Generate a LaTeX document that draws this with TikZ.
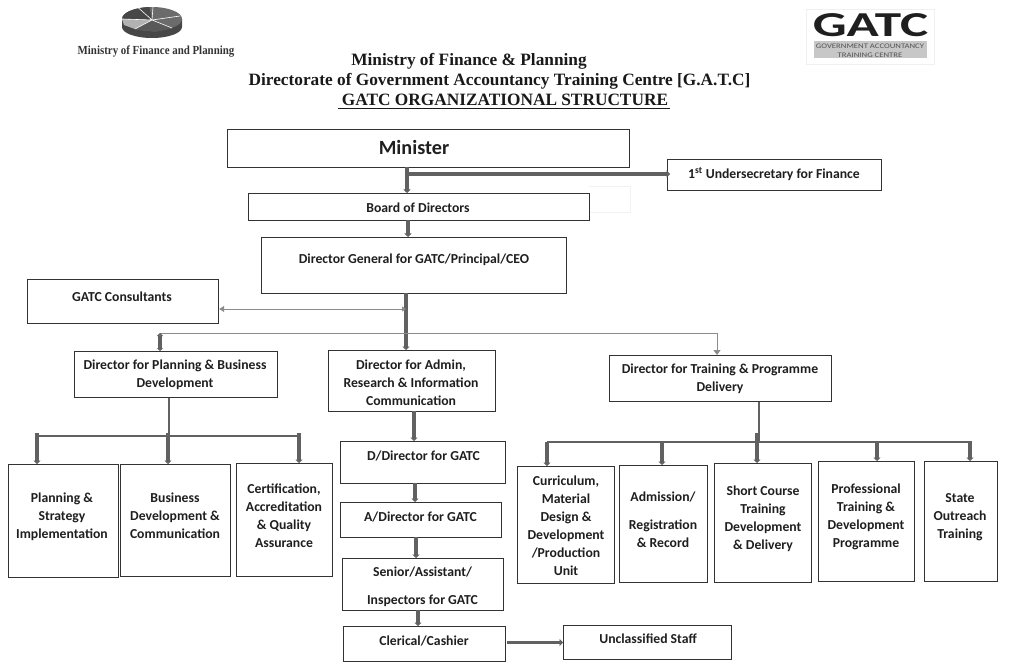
\documentclass[tikz,border=0pt]{standalone}
\usepackage{fontspec}
\setmainfont{Carlito}
\newfontfamily\ttl{Liberation Serif}
\usetikzlibrary{arrows.meta}
\definecolor{ln}{gray}{0.2}
\definecolor{conn}{gray}{0.38}
\tikzset{
 x=1pt,y=-1pt,
 bx/.style={draw=ln,line width=1.2pt,inner sep=0pt,fill=white},
 lbl/.style={font=\fontsize{13.7}{18}\selectfont\bfseries,align=center,text=black!88,inner sep=0pt,yshift=-1pt},
 ttlstyle/.style={font=\ttl\fontsize{17.3}{20}\selectfont\bfseries,inner sep=0pt,text=black!90},
 thick line/.style={draw=conn,line width=3.2pt},
 thin line/.style={draw=conn,line width=1.2pt},
 pale line/.style={draw=black!45,line width=1pt},
 tip/.style={-{Triangle[length=3.5pt,width=7pt]}},
}
% name, x1, y1, x2, y2
\newcommand{\bxn}[5]{\node[bx,minimum width=#4pt-#2pt,minimum height=#5pt-#3pt,anchor=north west] (#1) at (#2,#3) {};}
\begin{document}
\begin{tikzpicture}
\useasboundingbox (0,0) rectangle (1024,668);
% logos
\fill[black!72] (122,19) -- (122,27) arc[start angle=180,end angle=360,x radius=30,y radius=-11] -- (182,19) -- cycle;
\fill[black!58] (152,19) ellipse[x radius=30,y radius=12];
\fill[black!72] (122,19) arc[start angle=180,end angle=95,x radius=30,y radius=-12] -- (152,20) -- cycle;
\fill[black!30] (122,19) -- (152,20) -- (135,29) -- (124,25) -- cycle;
\fill[black!65] (135,29) -- (152,20) -- (172,28) -- (155,32) -- cycle;
\draw[white,line width=.6pt] (152,20) -- (138,7.5) (152,20) -- (153,7) (152,20) -- (180,16) (152,20) -- (172,28) (152,20) -- (135,29) (152,20) -- (122,19);
\node[font=\ttl\fontsize{12.3}{14}\selectfont\bfseries,text=black!80,inner sep=0pt,xscale=.885] (minlogo) at (156,52) {Ministry of Finance and Planning};
\draw[black!6] (806,9) rectangle (934,64);
\node[font=\fontsize{35}{35}\selectfont\bfseries,text=black!88,inner sep=0pt,xscale=1.52] (gatclogo) at (870.5,25) {GATC};
\fill[black!22] (814,41) rectangle (927,58);
\node[font=\fontsize{7}{8.8}\selectfont,text=black!68,align=center,inner sep=0pt,xscale=1.24] (gatcsub) at (870,50.5) {GOVERNMENT ACCOUNTANCY\\TRAINING CENTRE};
% titles
\node[ttlstyle] (t1) at (469,61) {Ministry of Finance \& Planning};
\node[ttlstyle] (t2) at (499.5,81) {Directorate of Government Accountancy Training Centre [G.A.T.C]};
\node[ttlstyle] (t3) at (505,100) {GATC ORGANIZATIONAL STRUCTURE};
\draw[black!90,line width=1pt] (338,108.5) -- (670,108.5);
% boxes
\draw[black!5,line width=.6pt] (589,186) -- (630,186) -- (630,212) -- (589,212);
\bxn{min}{227}{129}{629}{167}
\bxn{und}{667}{159}{881}{190}
\bxn{brd}{248}{193}{589}{220}
\bxn{dg}{261}{237}{566}{293}
\bxn{con}{27}{279}{218}{323}
\bxn{pla}{74}{351}{277}{397}
\bxn{adm}{328}{350}{495}{411}
\bxn{trn}{609}{355}{831}{401}
\bxn{pls}{8}{464}{118}{577}
\bxn{bus}{120}{464}{230}{576}
\bxn{cer}{236}{463}{332}{576}
\bxn{ddr}{340}{441}{505}{483}
\bxn{adr}{340}{502}{501}{537}
\bxn{sen}{342}{558}{503}{610}
\bxn{cle}{343}{626}{505}{661}
\bxn{unc}{563}{625}{731}{659}
\bxn{cur}{517}{466}{614}{583}
\bxn{adn}{619}{465}{707}{582}
\bxn{sho}{714}{463}{811}{582}
\bxn{pro}{818}{461}{914}{581}
\bxn{sta}{924}{461}{997}{581}
% labels
\node[lbl,font=\fontsize{20.2}{24}\selectfont\bfseries] (lmin) at (414,146) {Minister};
\node[lbl] (lund) at (774,173) {1\textsuperscript{st} Undersecretary for Finance};
\node[lbl] (lbrd) at (418,206.5) {Board of Directors};
\node[lbl] (ldg) at (414,259) {Director General for GATC/Principal/CEO};
\node[lbl] (lcon) at (122,296) {GATC Consultants};
\node[lbl] (lpla) at (175,374) {Director for Planning \& Business\\Development};
\node[lbl] (ladm) at (411,382) {Director for Admin,\\Research \& Information\\Communication};
\node[lbl] (ltrn) at (720,378) {Director for Training \& Programme\\Delivery};
\node[lbl] (lpls) at (62,516) {Planning \&\\Strategy\\Implementation};
\node[lbl] (lbus) at (175,515) {Business\\Development \&\\Communication};
\node[lbl] (lcer) at (284,515) {Certification,\\Accreditation\\\& Quality\\Assurance};
\node[lbl] (lddr) at (423.5,455) {D/Director for GATC};
\node[lbl] (ladr) at (420.5,516) {A/Director for GATC};
\node[lbl] (lsen) at (422.5,586) {Senior/Assistant/\\[10pt]Inspectors for GATC};
\node[lbl] (lcle) at (424,640) {Clerical/Cashier};
\node[lbl] (lunc) at (648,638) {Unclassified Staff};
\node[lbl] (lcur) at (566,525) {Curriculum,\\Material\\Design \&\\Development\\/Production\\Unit};
\node[lbl] (ladn) at (663,519) {Admission/\\[10pt]Registration\\\& Record};
\node[lbl] (lsho) at (763,518) {Short Course\\Training\\Development\\\& Delivery};
\node[lbl] (lpro) at (866,516) {Professional\\Training \&\\Development\\Programme};
\node[lbl] (lsta) at (960,516) {State\\Outreach\\Training};
% connector junctions
\coordinate (j0) at (407,174);
\coordinate (j1) at (406,309);
\coordinate (pj) at (160,333);
\coordinate (tj) at (717,333);
\coordinate (pb) at (169,436);
\coordinate (tb) at (759,442);
% connectors
\draw[thick line,tip] (407,167) -- (407,193);
\draw[thick line,tip,shorten >=-3pt] (j0) -- (und.west |- j0);
\draw[thick line,tip] (408,220) -- (408,237);
\draw[thick line,tip] (406,293) -- (406,350);
\draw[pale line,{Triangle[length=5pt,width=6pt]}-{Triangle[length=4pt,width=5pt]}] (con.east |- j1) -- (j1);
\draw[pale line] (pj) -- (tj);
\draw[thick line,{Triangle[length=3pt,width=6pt]}-{Triangle[length=3pt,width=6pt]}] (pj) -- (pj |- pla.north);
\draw[pale line,-{Triangle[length=5pt,width=7pt]}] (tj) -- (tj |- trn.north);
\draw[thin line] (pb |- pla.south) -- (pb);
\draw[thin line] (37,436) -- (300,436);
\draw[thick line,tip] (37,433) -- (37,433 |- pls.north);
\draw[thick line,tip] (168,433) -- (168,433 |- bus.north);
\draw[thick line,tip] (299,433) -- (299,433 |- cer.north);
\draw[thick line,tip] (414,411) -- (414,411 |- ddr.north);
\draw[thick line,tip] (415,483) -- (415,483 |- adr.north);
\draw[thick line,tip] (416,537) -- (416,537 |- sen.north);
\draw[thick line,tip] (418,610) -- (418,610 |- cle.north);
\draw[thick line,tip] (507,642.5) -- (unc.west |- 0,642.5);
\draw[thin line] (tb |- trn.south) -- (tb);
\draw[thin line,line width=1.5pt] (547,442) -- (972,442);
\draw[thick line,tip] (547,442) -- (547,442 |- cur.north);
\draw[thick line,tip] (662,442) -- (662,442 |- adn.north);
\draw[thick line,tip] (757,433) -- (757,433 |- sho.north);
\draw[thick line,tip] (877,442) -- (877,442 |- pro.north);
\draw[thick line,tip] (970,442) -- (970,442 |- sta.north);
\end{tikzpicture}
\end{document}
